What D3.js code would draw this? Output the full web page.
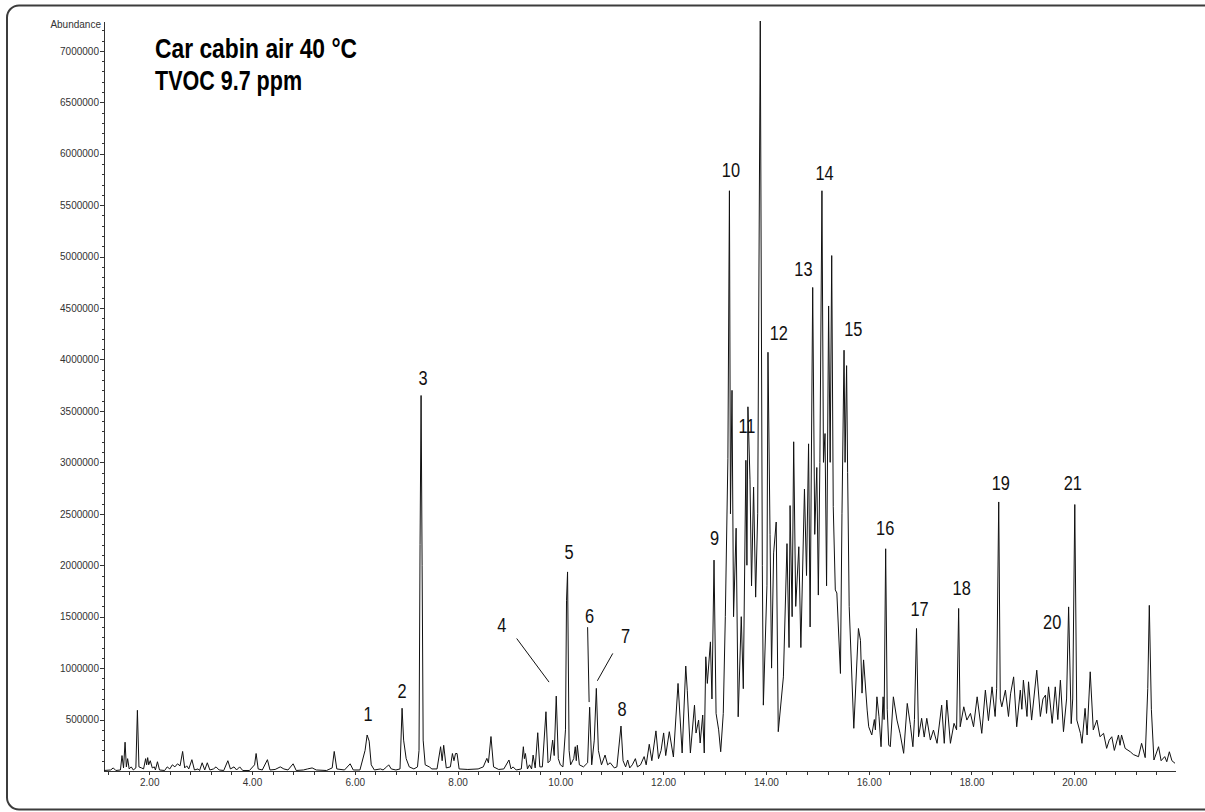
<!DOCTYPE html>
<html>
<head>
<meta charset="utf-8">
<script src="https://cdn.jsdelivr.net/npm/d3@7"></script>
<style>
  html, body { margin: 0; padding: 0; background: #fff; }
  #chart { width: 1205px; height: 812px; }
</style>
</head>
<body>
<div id="chart"></div>
<script>
/**
 * Total ion chromatogram, car cabin air at 40 °C.
 * Trace vertices (retention time in min, abundance in counts).
 */
const retentionTime = [
    1.12, 1.25, 1.30, 1.35, 1.44, 1.47, 1.50, 1.53, 1.555, 1.58,
    1.61, 1.65, 1.69, 1.74, 1.77, 1.80, 1.85, 1.89, 1.93, 1.95,
    1.97, 1.99, 2.02, 2.06, 2.10, 2.12, 2.16, 2.20, 2.30, 2.35,
    2.40, 2.45, 2.50, 2.55, 2.60, 2.65, 2.69, 2.73, 2.77, 2.83,
    2.88, 2.95, 2.98, 3.03, 3.08, 3.13, 3.18, 3.25, 3.30, 3.36,
    3.45, 3.53, 3.58, 3.65, 3.70, 3.76, 3.82, 3.95, 4.05, 4.08,
    4.12, 4.20, 4.30, 4.35, 4.45, 4.55, 4.62, 4.70, 4.80, 4.86,
    5.00, 5.08, 5.17, 5.25, 5.45, 5.56, 5.60, 5.65, 5.80, 5.91,
    5.97, 6.10, 6.20, 6.24, 6.28, 6.32, 6.38, 6.50, 6.55, 6.62,
    6.66, 6.71, 6.80, 6.88, 6.92, 6.95, 7.00, 7.06, 7.15, 7.22,
    7.25, 7.27, 7.29, 7.31, 7.33, 7.37, 7.45, 7.50, 7.60, 7.67,
    7.70, 7.73, 7.78, 7.86, 7.90, 7.93, 7.96, 7.99, 8.03, 8.20,
    8.40, 8.50, 8.57, 8.60, 8.65, 8.70, 8.80, 8.90, 9.00, 9.04,
    9.08, 9.14, 9.24, 9.28, 9.30, 9.32, 9.36, 9.40, 9.44, 9.47,
    9.51, 9.56, 9.60, 9.65, 9.72, 9.76, 9.80, 9.85, 9.88, 9.92,
    9.96, 10.00, 10.05, 10.10, 10.12, 10.14, 10.17, 10.20, 10.26, 10.29,
    10.31, 10.33, 10.37, 10.45, 10.53, 10.57, 10.61, 10.66, 10.70, 10.74,
    10.80, 10.87, 10.92, 10.97, 11.05, 11.10, 11.18, 11.22, 11.27, 11.31,
    11.35, 11.40, 11.46, 11.50, 11.56, 11.63, 11.67, 11.73, 11.78, 11.86,
    11.91, 11.96, 12.01, 12.05, 12.12, 12.20, 12.29, 12.37, 12.44, 12.47,
    12.53, 12.61, 12.64, 12.69, 12.72, 12.77, 12.80, 12.83, 12.86, 12.92,
    12.95, 12.99, 13.03, 13.08, 13.12, 13.17, 13.21, 13.26, 13.29, 13.31,
    13.34, 13.37, 13.42, 13.46, 13.52, 13.56, 13.61, 13.63, 13.65, 13.69,
    13.72, 13.76, 13.80, 13.84, 13.89, 13.93, 13.95, 14.02, 14.04, 14.08,
    14.11, 14.15, 14.20, 14.24, 14.34, 14.41, 14.45, 14.47, 14.51, 14.54,
    14.58, 14.64, 14.68, 14.75, 14.79, 14.83, 14.86, 14.91, 14.95, 14.99,
    15.02, 15.05, 15.09, 15.12, 15.15, 15.18, 15.22, 15.25, 15.28, 15.31,
    15.35, 15.38, 15.45, 15.48, 15.52, 15.54, 15.57, 15.59, 15.62, 15.71,
    15.80, 15.84, 15.87, 15.90, 15.97, 16.00, 16.06, 16.11, 16.13, 16.16,
    16.20, 16.24, 16.28, 16.30, 16.33, 16.36, 16.39, 16.42, 16.48, 16.55,
    16.61, 16.68, 16.75, 16.81, 16.86, 16.89, 16.93, 16.97, 17.03, 17.08,
    17.13, 17.20, 17.26, 17.33, 17.42, 17.47, 17.52, 17.59, 17.66, 17.71,
    17.75, 17.78, 17.85, 17.91, 17.98, 18.04, 18.11, 18.20, 18.27, 18.33,
    18.40, 18.46, 18.49, 18.53, 18.56, 18.59, 18.66, 18.72, 18.76, 18.82,
    18.88, 18.95, 18.98, 19.01, 19.08, 19.11, 19.17, 19.27, 19.34, 19.39,
    19.44, 19.46, 19.50, 19.57, 19.63, 19.68, 19.73, 19.79, 19.85, 19.89,
    19.94, 19.97, 20.01, 20.05, 20.12, 20.15, 20.21, 20.25, 20.31, 20.37,
    20.44, 20.50, 20.57, 20.63, 20.68, 20.73, 20.78, 20.86, 20.89, 20.92,
    20.99, 21.09, 21.15, 21.25, 21.31, 21.38, 21.43, 21.46, 21.50, 21.55,
    21.64, 21.69, 21.76, 21.80, 21.85, 21.90, 21.96,
];

const abundance = [
    5000, 10000, 30000, 5000, 10000, 150000, 30000, 280000, 40000, 120000,
    20000, 40000, 10000, 30000, 590000, 40000, 30000, 20000, 120000, 60000,
    130000, 60000, 100000, 30000, 40000, 10000, 90000, 10000, 5000, 40000,
    20000, 60000, 40000, 70000, 50000, 190000, 30000, 50000, 20000, 110000,
    10000, 20000, 5000, 80000, 10000, 80000, 10000, 20000, 40000, 10000,
    5000, 100000, 20000, 40000, 10000, 40000, 5000, 5000, 60000, 170000,
    20000, 10000, 110000, 10000, 15000, 40000, 20000, 10000, 70000, 5000,
    10000, 20000, 30000, 10000, 5000, 30000, 190000, 20000, 10000, 70000,
    10000, 10000, 200000, 350000, 290000, 60000, 10000, 20000, 10000, 40000,
    60000, 20000, 10000, 20000, 610000, 300000, 120000, 40000, 20000, 40000,
    200000, 2200000, 3650000, 2000000, 300000, 60000, 40000, 20000, 20000, 236000,
    100000, 250000, 30000, 40000, 170000, 100000, 170000, 170000, 20000, 15000,
    20000, 40000, 123000, 80000, 335000, 40000, 15000, 20000, 107000, 20000,
    40000, 10000, 20000, 236000, 120000, 170000, 20000, 60000, 20000, 155000,
    30000, 372000, 40000, 40000, 576000, 80000, 100000, 300000, 150000, 728000,
    120000, 60000, 40000, 400000, 1660000, 1935000, 200000, 60000, 120000, 236000,
    100000, 250000, 60000, 40000, 80000, 620000, 60000, 300000, 803000, 200000,
    60000, 155000, 60000, 80000, 30000, 40000, 437000, 100000, 40000, 107000,
    30000, 60000, 120000, 40000, 60000, 140000, 60000, 260000, 100000, 390000,
    120000, 200000, 370000, 150000, 382000, 136000, 851000, 175000, 1020000, 780000,
    175000, 640000, 369000, 495000, 272000, 544000, 175000, 1110000, 851000, 1255000,
    700000, 2050000, 560000, 400000, 187000, 560000, 1500000, 3040000, 5640000, 2500000,
    3700000, 1500000, 2360000, 527000, 1500000, 800000, 3020000, 2000000, 3540000, 2830000,
    1800000, 2760000, 1690000, 2500000, 7290000, 2000000, 640000, 1800000, 4070000, 2300000,
    1000000, 2120000, 2420000, 382000, 915000, 2210000, 1200000, 2580000, 1500000, 3200000,
    1600000, 2180000, 1200000, 2740000, 1900000, 3180000, 1400000, 4700000, 2300000, 2950000,
    1710000, 3000000, 5640000, 3000000, 3280000, 1800000, 4520000, 3000000, 5010000, 2570000,
    1760000, 1730000, 948000, 2500000, 4090000, 3000000, 3940000, 2900000, 1600000, 415000,
    1385000, 1270000, 757000, 1080000, 592000, 430000, 350000, 500000, 400000, 721000,
    527000, 236000, 721000, 500000, 2160000, 600000, 252000, 236000, 721000, 495000,
    366000, 172000, 657000, 450000, 236000, 500000, 1385000, 333000, 512000, 330000,
    512000, 301000, 398000, 269000, 640000, 269000, 689000, 269000, 463000, 400000,
    1580000, 430000, 624000, 495000, 560000, 430000, 721000, 366000, 786000, 490000,
    818000, 530000, 800000, 2615000, 700000, 624000, 786000, 530000, 750000, 915000,
    430000, 786000, 600000, 883000, 530000, 867000, 495000, 980000, 530000, 700000,
    738000, 560000, 818000, 463000, 818000, 500000, 883000, 382000, 700000, 1595000,
    460000, 700000, 2590000, 495000, 366000, 269000, 609000, 350000, 964000, 400000,
    495000, 333000, 366000, 220000, 300000, 333000, 200000, 350000, 250000, 350000,
    220000, 187000, 160000, 139000, 269000, 130000, 800000, 1610000, 600000, 107000,
    236000, 100000, 140000, 90000, 187000, 100000, 75000,
];

// Numbered peak labels, anchored at (time, abundance) of the label centre
const peakLabels = ["1", "2", "3", "4", "5", "6", "7", "8", "9", "10", "11",
    "12", "13", "14", "15", "16", "17", "18", "19", "20", "21"];
const peakLabelTime = [6.26, 6.92, 7.33, 8.86, 10.17, 10.57, 11.27, 11.20, 13.00, 13.32, 13.63,
    14.25, 14.73, 15.14, 15.70, 16.32, 16.99, 17.81, 18.57, 19.57, 19.97];
const peakLabelAbundance = [563000, 786000, 3830000, 1427000, 2139000, 1515000, 1320000, 612000,
    2275000, 5852000, 3359000, 4265000, 4881000, 5819000, 4298000, 2372000, 1583000,
    1789000, 2809000, 1450000, 2809000];

// Leader lines for labels 4, 6 and 7
const leaderStartTime = [9.15, 10.53, 11.02];
const leaderStartAbundance = [1288000, 1398000, 1143000];
const leaderEndTime = [9.78, 10.56, 10.72];
const leaderEndAbundance = [864000, 670000, 877000];

const yTickValues = [500000, 1000000, 1500000, 2000000, 2500000, 3000000, 3500000,
    4000000, 4500000, 5000000, 5500000, 6000000, 6500000, 7000000];
const xTickValues = [2, 4, 6, 8, 10, 12, 14, 16, 18, 20];
const xTickLabels = ["2.00", "4.00", "6.00", "8.00", "10.00", "12.00", "14.00", "16.00", "18.00", "20.00"];

const titleLines = ["Car cabin air 40 °C", "TVOC 9.7 ppm"];

// No condensed face is installed, so narrow glyphs are made by squeezing Liberation Sans
const SANS = "'Liberation Sans', Arial, sans-serif";
const titleWidths = [202, 147];
const labelSqueeze = 0.78;

const width = 1205;
const height = 812;
const plot = { left: 104, right: 1175, top: 21, bottom: 771 };

const svg = d3
    .create("svg")
    .attr("width", width)
    .attr("height", height)
    .attr("viewBox", [0, 0, width, height]);

// Rounded frame, cut by the right edge of the picture
svg.append("rect")
    .attr("x", 7)
    .attr("y", 5.5)
    .attr("width", 1260)
    .attr("height", 804)
    .attr("rx", 12)
    .attr("fill", "none")
    .attr("stroke", "#3c3c3c")
    .attr("stroke-width", 2);

const x = d3.scaleLinear().domain([1.12, 21.96]).range([plot.left, plot.right]);
const y = d3.scaleLinear().domain([0, 7290000]).range([plot.bottom, plot.top]);

/**
 * Axes
 */
const styleAxis = (g) => {
    g.selectAll("path, line").attr("stroke", "#333").attr("shape-rendering", "crispEdges");
    g.selectAll("text").attr("fill", "#333").attr("font-family", SANS).attr("font-size", 10);
};

// minor y ticks every 100000
svg.append("g")
    .attr("transform", `translate(${plot.left},0)`)
    .call(
        d3.axisLeft(y)
            .tickValues(d3.range(100000, 7250001, 100000))
            .tickSize(2)
            .tickSizeOuter(0)
            .tickFormat(""),
    )
    .call(styleAxis);

svg.append("g")
    .attr("transform", `translate(${plot.left},0)`)
    .call(
        d3.axisLeft(y)
            .tickValues(yTickValues)
            .tickSize(4)
            .tickPadding(1)
            .tickFormat(d3.format("d")),
    )
    .call((g) => g.select(".domain").remove())
    .call(styleAxis);

// x ticks every 0.4 min
svg.append("g")
    .attr("transform", `translate(0,${plot.bottom})`)
    .call(
        d3.axisBottom(x)
            .tickValues(d3.range(3, 55).map((i) => i * 0.4))
            .tickSize(4)
            .tickSizeOuter(0)
            .tickFormat(""),
    )
    .call(styleAxis);

svg.append("g")
    .attr("transform", `translate(0,${plot.bottom})`)
    .call(
        d3.axisBottom(x)
            .tickValues(xTickValues)
            .tickSize(4)
            .tickPadding(4)
            .tickFormat((d, i) => xTickLabels[i]),
    )
    .call((g) => g.select(".domain").remove())
    .call(styleAxis);

svg.append("text")
    .attr("x", plot.left - 3)
    .attr("y", 28)
    .attr("text-anchor", "end")
    .attr("font-family", SANS)
    .attr("font-size", 10)
    .attr("fill", "#333")
    .text("Abundance");

/**
 * Chromatogram trace
 */
const points = retentionTime.map((t, i) => [t, abundance[i]]);

const line = d3
    .line()
    .x((d) => x(d[0]))
    .y((d) => y(d[1]));

svg.append("path")
    .datum(points)
    .attr("d", line)
    .attr("fill", "none")
    .attr("stroke", "#111")
    .attr("stroke-width", 1)
    .attr("stroke-linejoin", "miter");

// Leader lines
svg.append("g")
    .selectAll("line")
    .data(leaderStartTime)
    .join("line")
    .attr("x1", (d) => x(d))
    .attr("y1", (d, i) => y(leaderStartAbundance[i]))
    .attr("x2", (d, i) => x(leaderEndTime[i]))
    .attr("y2", (d, i) => y(leaderEndAbundance[i]))
    .attr("stroke", "#111")
    .attr("stroke-width", 1);

// Peak numbers
svg.append("g")
    .attr("font-family", SANS)
    .attr("font-size", 21)
    .attr("fill", "#111")
    .attr("text-anchor", "middle")
    .selectAll("text")
    .data(peakLabels)
    .join("text")
    .attr(
        "transform",
        (d, i) =>
            `translate(${x(peakLabelTime[i])},${y(peakLabelAbundance[i])}) scale(${labelSqueeze},1)`,
    )
    .attr("dy", "0.36em")
    .text((d) => d);

// Title
svg.append("g")
    .attr("font-family", SANS)
    .attr("font-weight", "bold")
    .attr("font-size", 27)
    .attr("fill", "#000")
    .selectAll("text")
    .data(titleLines)
    .join("text")
    .attr("x", 155)
    .attr("y", (d, i) => 58 + i * 32)
    .attr("textLength", (d, i) => titleWidths[i])
    .attr("lengthAdjust", "spacingAndGlyphs")
    .text((d) => d);

document.getElementById("chart").appendChild(svg.node());
</script>
</body>
</html>
